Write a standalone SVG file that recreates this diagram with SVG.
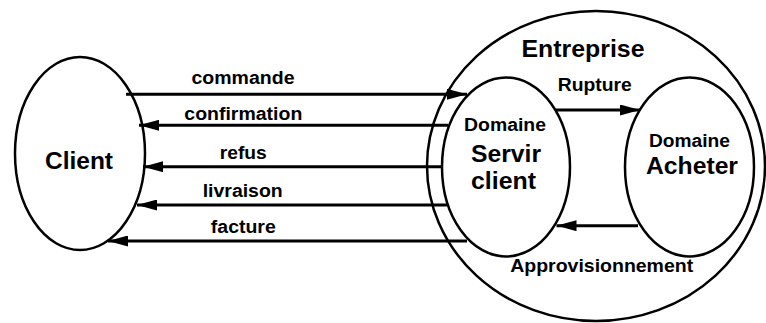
<svg xmlns="http://www.w3.org/2000/svg" width="766" height="323" viewBox="0 0 766 323">
<style>
.n{fill:none;stroke:#000;stroke-width:2.5}
.c{stroke:#000;stroke-width:3;fill:none}
text{font-family:"Liberation Sans",Arial,Helvetica,sans-serif;font-weight:bold;fill:#000;text-anchor:middle}
.s{font-size:18px}
.b{font-size:23px}
</style>
<defs>
<marker id="ah" viewBox="0 0 20 11" refX="20" refY="5.5" markerWidth="20" markerHeight="11" markerUnits="userSpaceOnUse" orient="auto">
<path d="M0,0 L20,5.5 L0,11 z" fill="#000"/>
</marker>
</defs>
<rect width="766" height="323" fill="#fff"/>
<g id="client">
<ellipse class="n" cx="80" cy="153.5" rx="65" ry="96.5"/>
<text class="b" x="79" y="169" textLength="68" lengthAdjust="spacingAndGlyphs">Client</text>
</g>
<g id="entreprise">
<ellipse class="n" cx="596" cy="166" rx="169" ry="155"/>
<text class="b" x="583" y="57" textLength="123" lengthAdjust="spacingAndGlyphs">Entreprise</text>
</g>
<g id="servir">
<ellipse class="n" cx="506" cy="167" rx="64" ry="89.5"/>
<text class="s" x="505" y="131" textLength="82" lengthAdjust="spacingAndGlyphs">Domaine</text>
<text class="b" x="506" y="162" textLength="70" lengthAdjust="spacingAndGlyphs">Servir</text>
<text class="b" x="503.5" y="189" textLength="65" lengthAdjust="spacingAndGlyphs">client</text>
</g>
<g id="acheter">
<ellipse class="n" cx="689.5" cy="167" rx="64.5" ry="89.5"/>
<text class="s" x="689.5" y="147" textLength="81" lengthAdjust="spacingAndGlyphs">Domaine</text>
<text class="b" x="692" y="174" textLength="92" lengthAdjust="spacingAndGlyphs">Acheter</text>
</g>
<g id="connectors">
<line class="c" x1="126" y1="94.3" x2="467" y2="94.3" marker-end="url(#ah)"/>
<line class="c" x1="448" y1="125.3" x2="139" y2="125.3" marker-end="url(#ah)"/>
<line class="c" x1="441" y1="166.7" x2="143" y2="166.7" marker-end="url(#ah)"/>
<line class="c" x1="447" y1="205" x2="137" y2="205" marker-end="url(#ah)"/>
<line class="c" x1="467" y1="241" x2="108" y2="241" marker-end="url(#ah)"/>
<line class="c" x1="556" y1="110" x2="640" y2="110" marker-end="url(#ah)"/>
<line class="c" x1="638" y1="225.7" x2="556.5" y2="225.7" marker-end="url(#ah)"/>
<text class="s" x="243" y="84" textLength="103" lengthAdjust="spacingAndGlyphs">commande</text>
<text class="s" x="243.3" y="120" textLength="118" lengthAdjust="spacingAndGlyphs">confirmation</text>
<text class="s" x="243.3" y="159" textLength="47" lengthAdjust="spacingAndGlyphs">refus</text>
<text class="s" x="242.7" y="197" textLength="80" lengthAdjust="spacingAndGlyphs">livraison</text>
<text class="s" x="243.3" y="233" textLength="65" lengthAdjust="spacingAndGlyphs">facture</text>
<text class="s" x="594.7" y="91" textLength="74" lengthAdjust="spacingAndGlyphs">Rupture</text>
<text class="s" x="601.7" y="272" textLength="183" lengthAdjust="spacingAndGlyphs">Approvisionnement</text>
</g>
</svg>
